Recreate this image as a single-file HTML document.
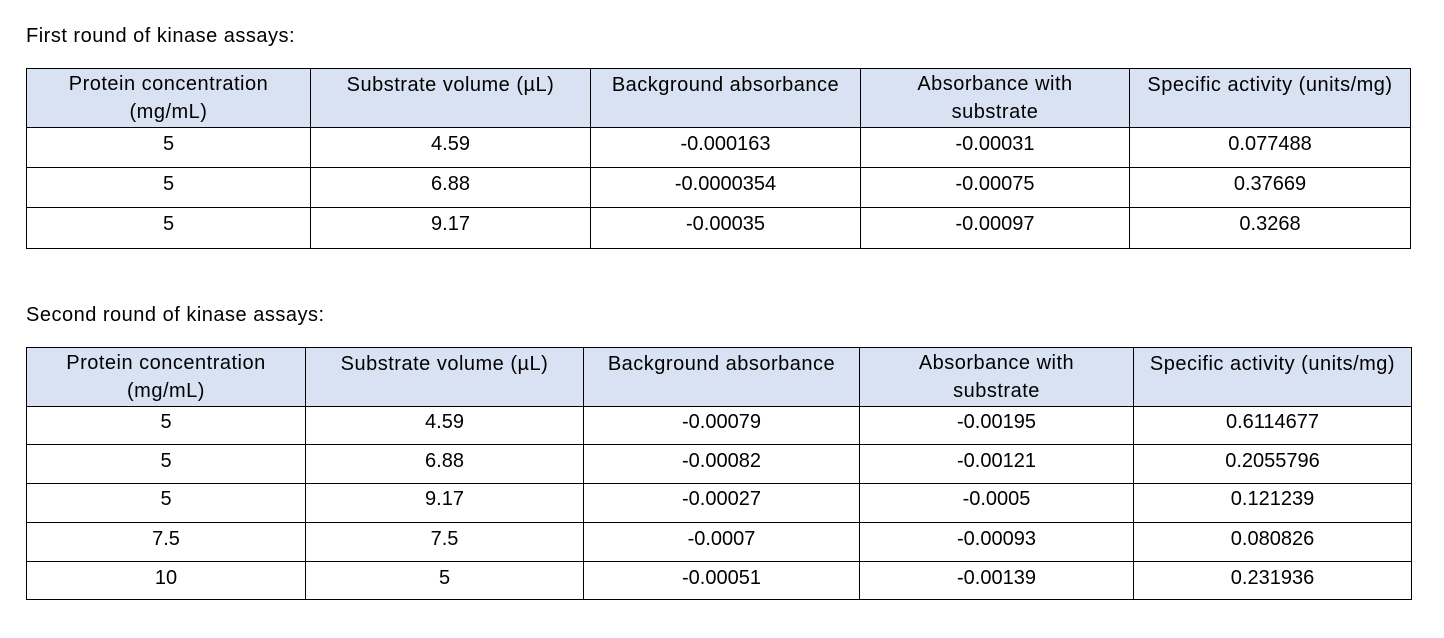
<!DOCTYPE html>
<html><head><meta charset="utf-8"><style>
html,body{margin:0;padding:0;background:#fff;}
body{width:1444px;height:638px;position:relative;overflow:hidden;}
.t{position:absolute;font-family:"Liberation Sans",Arial,sans-serif;font-size:20px;line-height:28px;color:#000;white-space:nowrap;text-align:center;}
.l{letter-spacing:0.5px;}
.h{position:absolute;height:1px;background:#000;}
.v{position:absolute;width:1px;background:#000;}
.f{position:absolute;background:#D9E2F3;}
</style></head><body>

<div class="t l" style="left:26px;top:22px;text-align:left;">First round of kinase assays:</div>

<!-- Table 1 -->
<div class="f" style="left:27px;top:69px;width:1383px;height:58px;"></div>
<div class="h" style="left:26px;top:68px;width:1385px;"></div>
<div class="h" style="left:26px;top:127px;width:1385px;"></div>
<div class="h" style="left:26px;top:167px;width:1385px;"></div>
<div class="h" style="left:26px;top:207px;width:1385px;"></div>
<div class="h" style="left:26px;top:248px;width:1385px;"></div>
<div class="v" style="left:26px;top:68px;height:181px;"></div>
<div class="v" style="left:310px;top:68px;height:181px;"></div>
<div class="v" style="left:590px;top:68px;height:181px;"></div>
<div class="v" style="left:860px;top:68px;height:181px;"></div>
<div class="v" style="left:1129px;top:68px;height:181px;"></div>
<div class="v" style="left:1410px;top:68px;height:181px;"></div>

<div class="t l" style="left:27px;width:283px;top:71px;line-height:27.6px;">Protein concentration<br>(mg/mL)</div>
<div class="t l" style="left:311px;width:279px;top:71px;">Substrate volume (µL)</div>
<div class="t l" style="left:591px;width:269px;top:71px;">Background absorbance</div>
<div class="t l" style="left:861px;width:268px;top:71px;line-height:27.6px;">Absorbance with<br>substrate</div>
<div class="t l" style="left:1130px;width:280px;top:71px;">Specific activity (units/mg)</div>

<div class="t" style="left:27px;width:283px;top:130px;">5</div>
<div class="t" style="left:311px;width:279px;top:130px;">4.59</div>
<div class="t" style="left:591px;width:269px;top:130px;">-0.000163</div>
<div class="t" style="left:861px;width:268px;top:130px;">-0.00031</div>
<div class="t" style="left:1130px;width:280px;top:130px;">0.077488</div>

<div class="t" style="left:27px;width:283px;top:170px;">5</div>
<div class="t" style="left:311px;width:279px;top:170px;">6.88</div>
<div class="t" style="left:591px;width:269px;top:170px;">-0.0000354</div>
<div class="t" style="left:861px;width:268px;top:170px;">-0.00075</div>
<div class="t" style="left:1130px;width:280px;top:170px;">0.37669</div>

<div class="t" style="left:27px;width:283px;top:210px;">5</div>
<div class="t" style="left:311px;width:279px;top:210px;">9.17</div>
<div class="t" style="left:591px;width:269px;top:210px;">-0.00035</div>
<div class="t" style="left:861px;width:268px;top:210px;">-0.00097</div>
<div class="t" style="left:1130px;width:280px;top:210px;">0.3268</div>

<div class="t l" style="left:26px;top:301px;text-align:left;">Second round of kinase assays:</div>

<!-- Table 2 -->
<div class="f" style="left:27px;top:348px;width:1384px;height:58px;"></div>
<div class="h" style="left:26px;top:347px;width:1386px;"></div>
<div class="h" style="left:26px;top:406px;width:1386px;"></div>
<div class="h" style="left:26px;top:444px;width:1386px;"></div>
<div class="h" style="left:26px;top:483px;width:1386px;"></div>
<div class="h" style="left:26px;top:522px;width:1386px;"></div>
<div class="h" style="left:26px;top:561px;width:1386px;"></div>
<div class="h" style="left:26px;top:599px;width:1386px;"></div>
<div class="v" style="left:26px;top:347px;height:253px;"></div>
<div class="v" style="left:305px;top:347px;height:253px;"></div>
<div class="v" style="left:583px;top:347px;height:253px;"></div>
<div class="v" style="left:859px;top:347px;height:253px;"></div>
<div class="v" style="left:1133px;top:347px;height:253px;"></div>
<div class="v" style="left:1411px;top:347px;height:253px;"></div>

<div class="t l" style="left:27px;width:278px;top:350px;line-height:27.6px;">Protein concentration<br>(mg/mL)</div>
<div class="t l" style="left:306px;width:277px;top:350px;">Substrate volume (µL)</div>
<div class="t l" style="left:584px;width:275px;top:350px;">Background absorbance</div>
<div class="t l" style="left:860px;width:273px;top:350px;line-height:27.6px;">Absorbance with<br>substrate</div>
<div class="t l" style="left:1134px;width:277px;top:350px;">Specific activity (units/mg)</div>

<div class="t" style="left:27px;width:278px;top:408px;">5</div>
<div class="t" style="left:306px;width:277px;top:408px;">4.59</div>
<div class="t" style="left:584px;width:275px;top:408px;">-0.00079</div>
<div class="t" style="left:860px;width:273px;top:408px;">-0.00195</div>
<div class="t" style="left:1134px;width:277px;top:408px;">0.6114677</div>

<div class="t" style="left:27px;width:278px;top:447px;">5</div>
<div class="t" style="left:306px;width:277px;top:447px;">6.88</div>
<div class="t" style="left:584px;width:275px;top:447px;">-0.00082</div>
<div class="t" style="left:860px;width:273px;top:447px;">-0.00121</div>
<div class="t" style="left:1134px;width:277px;top:447px;">0.2055796</div>

<div class="t" style="left:27px;width:278px;top:485px;">5</div>
<div class="t" style="left:306px;width:277px;top:485px;">9.17</div>
<div class="t" style="left:584px;width:275px;top:485px;">-0.00027</div>
<div class="t" style="left:860px;width:273px;top:485px;">-0.0005</div>
<div class="t" style="left:1134px;width:277px;top:485px;">0.121239</div>

<div class="t" style="left:27px;width:278px;top:525px;">7.5</div>
<div class="t" style="left:306px;width:277px;top:525px;">7.5</div>
<div class="t" style="left:584px;width:275px;top:525px;">-0.0007</div>
<div class="t" style="left:860px;width:273px;top:525px;">-0.00093</div>
<div class="t" style="left:1134px;width:277px;top:525px;">0.080826</div>

<div class="t" style="left:27px;width:278px;top:564px;">10</div>
<div class="t" style="left:306px;width:277px;top:564px;">5</div>
<div class="t" style="left:584px;width:275px;top:564px;">-0.00051</div>
<div class="t" style="left:860px;width:273px;top:564px;">-0.00139</div>
<div class="t" style="left:1134px;width:277px;top:564px;">0.231936</div>

</body></html>
